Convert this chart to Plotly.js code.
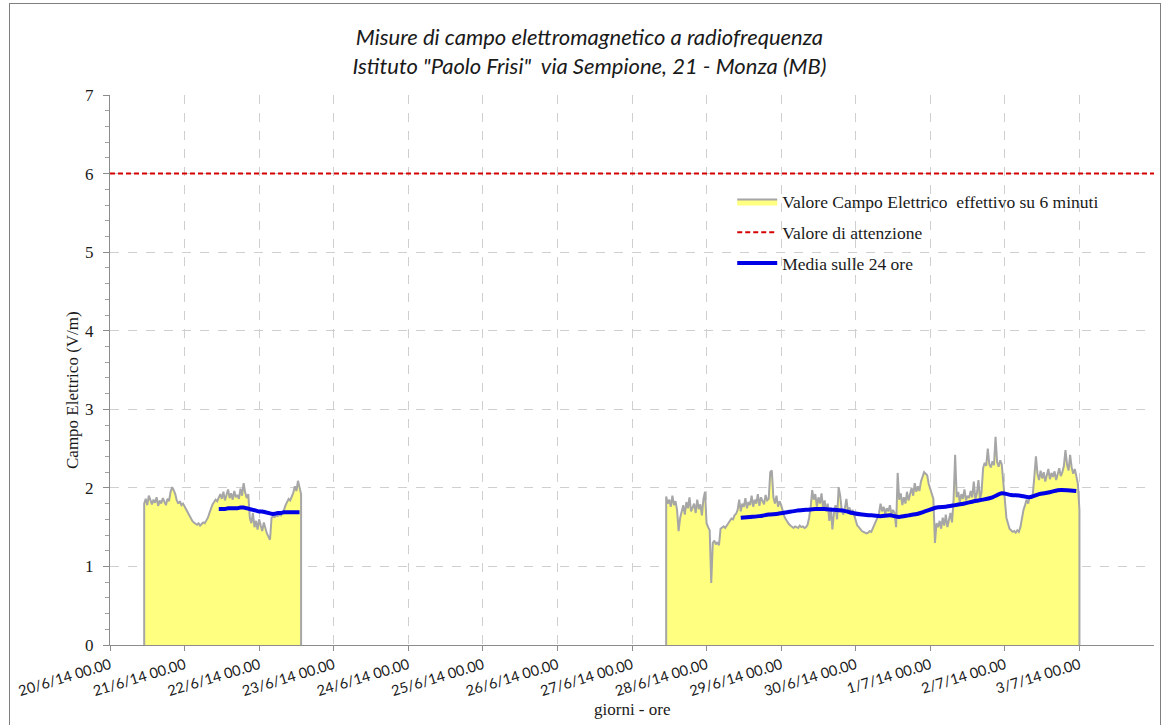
<!DOCTYPE html>
<html>
<head>
<meta charset="utf-8">
<script src="https://cdn.plot.ly/plotly-3.0.1.min.js"></script>
<style>
  html, body { margin: 0; padding: 0; background: #ffffff; }
  #wrap { position: relative; width: 1165px; height: 725px; }
  #chart { position: absolute; left: 0; top: 0; width: 1165px; height: 725px; }
  #frame { position: absolute; left: 9px; top: 3px; width: 1152px; height: 730px;
           border: 1.5px solid #7f7f7f; pointer-events: none; box-sizing: border-box; }
</style>
</head>
<body>
<div id="wrap">
  <div id="chart"></div>
  <div id="frame"></div>
</div>
<script>
// ---------------- DATA ----------------
const titleLines = ["Misure di campo elettromagnetico a radiofrequenza",
                    "Istituto \"Paolo Frisi\"  via Sempione, 21 - Monza (MB)"];
const seriesNames = ["Valore Campo Elettrico  effettivo su 6 minuti",
                     "Valore di attenzione",
                     "Media sulle 24 ore"];
const yAxisTitle = "Campo Elettrico (V/m)";
const xAxisTitle = "giorni - ore";

const tickDates = ["2014-06-20","2014-06-21","2014-06-22","2014-06-23","2014-06-24",
                   "2014-06-25","2014-06-26","2014-06-27","2014-06-28","2014-06-29",
                   "2014-06-30","2014-07-01","2014-07-02","2014-07-03"];
const tickLabels = ["20/6/14 00.00","21/6/14 00.00","22/6/14 00.00","23/6/14 00.00","24/6/14 00.00",
                    "25/6/14 00.00","26/6/14 00.00","27/6/14 00.00","28/6/14 00.00","29/6/14 00.00",
                    "30/6/14 00.00","1/7/14 00.00","2/7/14 00.00","3/7/14 00.00"];
const xRange = ["2014-06-20 00:00", "2014-07-04 00:00"];

// attention value (V/m)
const attentionValue = 6;

// field values, first measuring period (every 30 min from start)
const seg1Start = "2014-06-20T11:00:00";
const seg1StepMin = 30;
const seg1Values = [1.80,1.86,1.78,1.90,1.83,1.79,1.85,1.81,1.88,1.77,1.84,1.80,1.87,1.82,1.78,1.86,1.83,
  1.95,2.01,1.97,1.92,
  1.84,1.80,1.83,1.78,1.80,1.76,
  1.72,1.68,1.64,1.60,1.58,
  1.56,1.54,1.53,1.55,1.52,1.54,1.56,1.55,1.58,
  1.62,1.68,1.74,1.79,1.82,
  1.85,1.83,1.88,
  1.92,1.86,1.95,1.84,1.90,1.98,1.87,1.93,1.85,1.96,1.88,1.91,1.86,1.99,1.90,2.06,1.94,1.87,1.92,
  1.62,1.55,1.68,1.50,1.58,1.47,1.60,1.52,1.45,1.56,1.48,1.42,1.38,1.34,
  1.62,1.64,1.63,1.65,1.64,1.66,1.65,1.68,
  1.72,1.78,1.82,1.86,1.84,1.88,
  1.94,2.02,1.96,2.09,2.00,1.92];

// field values, second measuring period (every 30 min from start)
const seg2Start = "2014-06-27T11:00:00";
const seg2StepMin = 30;
const seg2Values = [1.89,1.80,1.85,1.76,1.90,1.78,1.83,1.72,
  1.45,
  1.62,1.70,1.78,1.66,1.82,1.74,1.88,1.70,1.76,1.80,1.68,1.85,1.73,1.79,1.65,1.86,
  1.95,
  1.55,1.50,1.46,
  0.79,
  1.30,1.33,1.28,1.31,1.27,
  1.48,1.50,1.51,1.49,1.52,
  1.55,1.58,1.61,1.60,1.65,1.67,
  1.72,1.85,1.70,1.80,1.76,1.87,1.74,
  1.82,1.78,1.90,1.76,1.85,1.80,1.92,1.77,1.88,1.83,1.79,1.91,1.84,1.86,
  2.20,2.22,
  1.88,1.80,1.90,1.76,1.83,1.78,
  1.70,1.64,1.60,1.56,1.54,1.52,
  1.50,1.49,1.51,1.50,1.49,1.52,1.50,1.51,1.49,1.50,1.53,
  1.62,1.75,1.97,
  1.85,1.92,1.76,1.88,1.80,1.93,1.74,1.84,
  1.70,1.80,1.58,1.75,1.47,1.68,1.78,1.60,
  2.01,1.90,
  1.72,1.66,1.74,1.86,
  1.70,1.75,1.66,1.72,1.65,
  1.58,1.52,1.50,1.47,1.45,1.44,1.43,1.42,1.43,1.45,1.44,1.48,1.52,1.56,
  1.62,1.68,
  1.80,1.70,1.76,1.67,1.74,1.70,1.78,1.66,1.72,1.68,
  1.50,
  2.19,
  1.85,1.93,1.78,1.88,1.80,1.95,1.84,
  1.92,2.00,1.90,2.06,1.95,2.02,1.96,2.08,
  2.14,2.20,2.18,2.16,
  2.05,1.98,1.92,1.86,
  1.30,
  1.55,1.50,1.58,1.48,1.62,1.52,1.66,1.50,1.60,1.68,
  1.56,1.85,2.42,
  1.88,1.95,1.82,1.92,1.86,1.98,1.84,1.90,1.87,1.96,
  1.88,2.08,1.86,1.93,2.10,1.85,1.95,
  2.25,2.32,2.28,2.50,2.30,2.26,2.34,2.29,2.65,2.33,2.27,2.35,2.30,
  2.05,1.80,1.62,
  1.55,1.48,1.46,1.44,1.45,1.43,1.46,1.44,1.50,
  1.62,1.72,1.78,1.85,1.80,1.90,1.88,1.92,
  2.15,2.40,2.18,2.10,2.22,2.12,2.20,2.08,2.16,2.24,2.11,2.19,2.14,2.21,2.10,2.18,2.25,2.15,2.20,2.28,2.48,2.30,2.22,2.42,2.26,2.18,2.24,
  2.15,2.05,1.72];

// 24-hour moving average
const avg1Start = "2014-06-21T11:00:00";
const avg1StepMin = 60;
const avg1Values = [1.73,1.73,1.73,1.74,1.74,1.74,1.74,1.75,1.75,1.74,1.73,1.72,1.71,1.70,1.70,
  1.69,1.68,1.67,1.67,1.68,1.68,1.69,1.69,1.69,1.69,1.69,1.69];

const avg2Start = "2014-06-28T11:00:00";
const avg2StepMin = 180;
const avg2Values = [1.62,1.63,1.64,1.66,1.67,1.69,1.71,1.72,1.73,1.73,1.72,1.71,1.68,1.66,1.65,
  1.64,1.65,1.63,1.65,1.67,1.71,1.75,1.76,1.78,1.80,1.83,1.85,1.88,1.93,1.91,1.90,1.88,1.92,
  1.94,1.97,1.97,1.96];

// ---------------- BUILD ----------------
function fmt(ms) { return new Date(ms).toISOString().replace("T", " ").slice(0, 19); }
function times(start, stepMin, n) {
  const t0 = Date.parse(start + "Z");
  const out = [];
  for (let i = 0; i < n; i++) out.push(fmt(t0 + i * stepMin * 60000));
  return out;
}
function areaTrace(start, step, vals, show) {
  const t = times(start, step, vals.length);
  return {
    type: "scatter", mode: "lines",
    x: [t[0]].concat(t, [t[t.length - 1]]),
    y: [0].concat(vals, [0]),
    fill: "tozeroy", fillcolor: "#ffff80",
    line: { color: "#a6a6a6", width: 2 },
    name: seriesNames[0], showlegend: show, legendgroup: "g1",
    hoverinfo: "x+y"
  };
}
function avgTrace(start, step, vals, show) {
  return {
    type: "scatter", mode: "lines",
    x: times(start, step, vals.length), y: vals,
    line: { color: "#0000e6", width: 4, shape: "spline", smoothing: 0.6 },
    name: seriesNames[2], showlegend: show, legendgroup: "g3"
  };
}

const traces = [
  areaTrace(seg1Start, seg1StepMin, seg1Values, true),
  areaTrace(seg2Start, seg2StepMin, seg2Values, false),
  { type: "scatter", mode: "lines", x: xRange, y: [attentionValue, attentionValue],
    line: { color: "#d40000", width: 2, dash: "5px,3px" },
    name: seriesNames[1], legendgroup: "g2" },
  avgTrace(avg1Start, avg1StepMin, avg1Values, true),
  avgTrace(avg2Start, avg2StepMin, avg2Values, false)
];

const serif = "Liberation Serif, DejaVu Serif, serif";
const sans = "Lato, Open Sans, sans-serif";

const layout = {
  width: 1165, height: 725,
  margin: { l: 110, r: 11, t: 95, b: 80 },
  paper_bgcolor: "rgba(0,0,0,0)", plot_bgcolor: "#ffffff",
  showlegend: true,
  title: {
    text: titleLines.join("<br>"),
    font: { family: sans, size: 22, style: "italic", color: "#1a1a1a" },
    x: 0.506, xref: "container", xanchor: "center",
    y: 0.938, yref: "container", yanchor: "top"
  },
  xaxis: {
    type: "date", range: xRange,
    tickmode: "array", tickvals: tickDates, ticktext: tickLabels,
    tickangle: -17,
    tickfont: { family: sans, size: 14.5, color: "#1a1a1a" },
    ticks: "outside", ticklen: 5, tickcolor: "#8c8c8c",
    showline: true, linecolor: "#8c8c8c", linewidth: 1.2,
    showgrid: true, gridcolor: "#cfcfcf", griddash: "dash", gridwidth: 1,
    zeroline: false, fixedrange: true
  },
  yaxis: {
    range: [0, 7], dtick: 1, tick0: 0,
    tickfont: { family: serif, size: 17, color: "#1a1a1a" },
    ticks: "outside", ticklen: 6, tickcolor: "#8c8c8c",
    ticklabelstandoff: 6,
    minor: { dtick: 0.2, ticks: "outside", ticklen: 4, tickcolor: "#a0a0a0", showgrid: false },
    showline: true, linecolor: "#8c8c8c", linewidth: 1.2,
    showgrid: true, gridcolor: "#cfcfcf", griddash: "dash", gridwidth: 1,
    zeroline: false, fixedrange: true
  },
  legend: {
    x: 0.596, xanchor: "left", y: 0.839, yanchor: "top",
    bgcolor: "rgba(0,0,0,0)", borderwidth: 0,
    font: { family: serif, size: 17.5, color: "#1a1a1a" },
    traceorder: "grouped", tracegroupgap: 5, itemwidth: 40
  },
  annotations: [
    { text: yAxisTitle, xref: "paper", yref: "paper",
      x: (72 - 110) / 1044, y: (645 - 390) / 550, xanchor: "center", yanchor: "middle",
      textangle: -90, showarrow: false,
      font: { family: serif, size: 17, color: "#1a1a1a" } },
    { text: xAxisTitle, xref: "paper", yref: "paper",
      x: 0.5, y: (645 - 709) / 550, xanchor: "center", yanchor: "middle",
      showarrow: false,
      font: { family: serif, size: 17, color: "#1a1a1a" } }
  ]
};

Plotly.newPlot("chart", traces, layout, { displayModeBar: false, staticPlot: true });
</script>
</body>
</html>
